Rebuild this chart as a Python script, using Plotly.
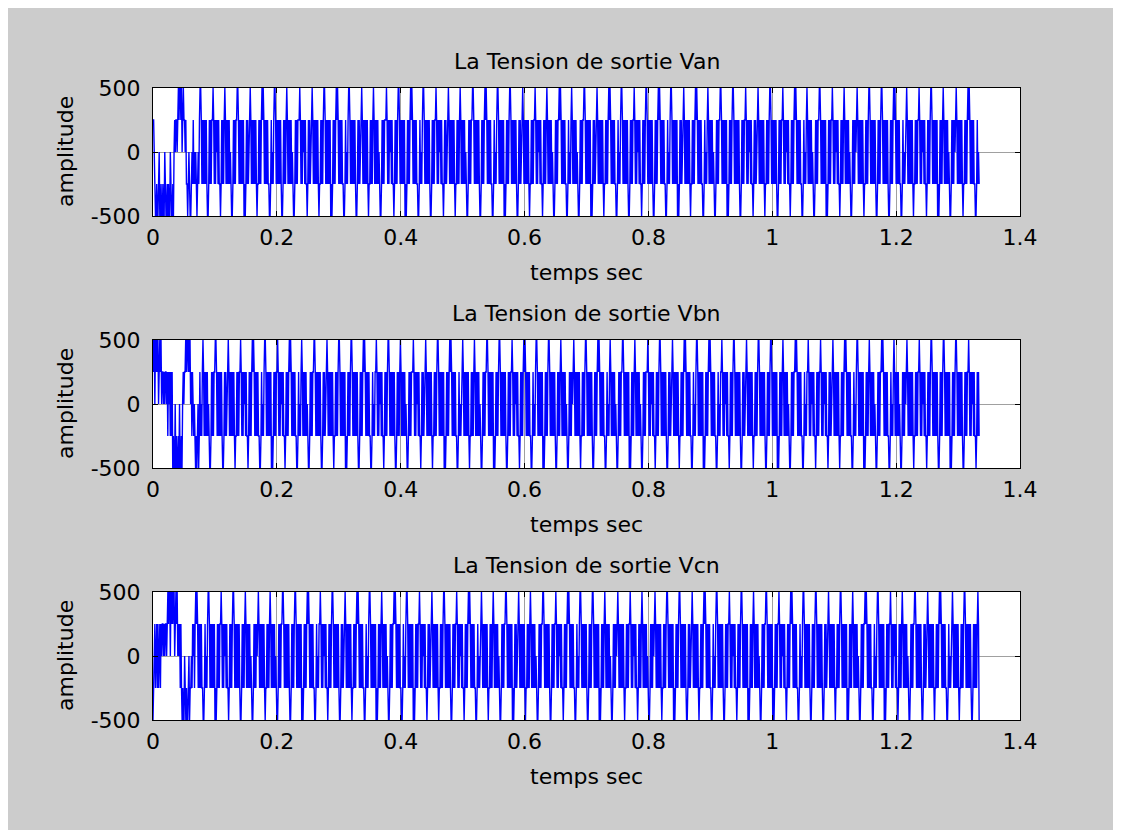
import numpy as np
import plotly.graph_objects as go

# ---------------- data ----------------
T_END = 1.334            # last sample time (s)
X_TICKS = [0, 0.2, 0.4, 0.6, 0.8, 1.0, 1.2, 1.4]
X_TICKTEXT = ["0", "0.2", "0.4", "0.6", "0.8", "1", "1.2", "1.4"]
Y_TICKS = [-500, 0, 500]
Y_TICKTEXT = ["-500", "0", "500"]

# level code: P=+500, p=+250, 0=0, n=-250, N=-500
LEVELS = {"P": 500, "p": 250, "0": 0, "n": -250, "N": -500}

VAN_CODE = (
    "pp0" "nNNnNNn0NNnNNnNN0nNNnNnNN0nNNnN" "0p0pp0pPpPPpP0pPpp0pn" "nNn0nNNn0npn0n0nNn0n"
    "pPPpnpnpnpnpnNNnpnpn" "ppPpnpnp0pnpnnNnpnpn" "pPpnpnpnpn0nNNnpnpnp" "pPPpnpnpnpnpNnNnpnpn" "0pPpnpnpnpnpnNnnpnpn"
    "pPpPpnpnpnpnnNNnpn0n" "pPPpnpnpnpnpnNNnpnpn" "pPpnpnpnpn0nNNnpnpnp" "ppPpnpnp0pnpnnNnpnpn" "0pPpnpnpnpnpnNnnpnpn"
    "pPPpnpnpnpnpNnNnpnpn" "pPpPpnpnpnpnnNNnpn0n" "pPPpnpnpnpnpnNNnpnpn" "0pPpnpnpnpnpnNnnpnpn" "pPpnpnpnpn0nNNnpnpnp"
    "ppPpnpnp0pnpnnNnpnpn" "pPPpnpnpnpnpNnNnpnpn" "pPpPpnpnpnpnnNNnpn0n" "pPPpnpnpnpnpnNNnpnpn" "ppPpnpnp0pnpnnNnpnpn"
    "0pPpnpnpnpnpnNnnpnpn" "pPpnpnpnpn0nNNnpnpnp" "pPPpnpnpnpnpnNNnpnpn" "pPpPpnpnpnpnnNNnpn0n" "pPPpnpnpnpnpNnNnpnpn"
    "pPPpnpnpnpnpnNNnpnpn" "0pPpnpnpnpnpnNnnpnpn" "ppPpnpnp0pnpnnNnpnpn" "pPpnpnpnpn0nNNnpnpnp" "pPpPpnpnpnpnnNNnpn0n"
    "pPpnpnpnpn0nNNnpnpnp" "pPPpnpnpnpnpNnNnpnpn" "0pPpnpnpnpnpnNnnpnpn" "pPpPpnpnpnpnnNNnpn0n" "pPPpnpnpnpnpnNNnpnpn"
    "ppPpnpnp0pnpnnNnpnpn" "pPPpnpnpnpnpnNNnpnpn" "pPpPpnpnpnpnnNNnpn0n" "pPPpnpnpnpnpNnNnpnpn" "0pPpnpnpnpnpnNnnpnpn"
    "pPpPpnpnpnpnnNNnpn0n" "pPpnpnpnpn0nNNnpnpnp" "pPPpnpnpnpnpNnNnpnpn" "pPPpnpnpnpnpnNNnpnpn" "ppPpnpnp0pnpnnNnpnpn"
    "0pPpnpnpnpnpnNnnpnpn" "pPPpnpnpnpnpnNNnpnpn" "ppPpnpnp0pnpnnNnpnpn" "pPpPpnpnpnpnnNNnpn0n" "pPpnpnpnpn0nNNnpnpnp"
    "pPPpnpnpnpnpNnNnpnpn" "ppPpnpnp0pnpnnNnpnpn" "pPpnpnpnpn0nNNnpnpnp" "0pPpnpnpnpnpnNnnpnpn" "pPPpnpnpnpnpnNNnpnpn"
    "pPPpnpnpnpnpnNNnpnpn" "pPpPpnpnpnpnnNNnpn0n" "0pPpnpnpnpnpnNnnpnpn" "ppPpnpnp0pnpnnNnpnpn" "pPPpnpnpnpnpNnNnpnpn"
    "pPpnpnpnpn0nNNnpnpnp" "0pPpnpnpnpnpnNnnpnpn" "pPpPpnpnpnpnnNNnpn0n"
)

VBN_CODE = (
    "PpP0PpPpP0pPpP0p" "p0p0pp0pnp0pnpnp" "NnNN0NnNNnN0NNnN" "0p0ppPpPPpPpP0pnp0n0nNnN" "n0Nnpn0n"
    "pPpnpnpnpn0nNNnpnpnp" "pPPpnpnpnpnpnNNnpnpn" "0pPpnpnpnpnpnNnnpnpn" "ppPpnpnp0pnpnnNnpnpn" "pPpPpnpnpnpnnNNnpn0n"
    "pPPpnpnpnpnpNnNnpnpn" "ppPpnpnp0pnpnnNnpnpn" "pPpPpnpnpnpnnNNnpn0n" "pPpnpnpnpn0nNNnpnpnp" "pPPpnpnpnpnpnNNnpnpn"
    "0pPpnpnpnpnpnNnnpnpn" "pPPpnpnpnpnpNnNnpnpn" "pPPpnpnpnpnpnNNnpnpn" "pPpPpnpnpnpnnNNnpn0n" "ppPpnpnp0pnpnnNnpnpn"
    "pPPpnpnpnpnpnNNnpnpn" "pPpnpnpnpn0nNNnpnpnp" "ppPpnpnp0pnpnnNnpnpn" "0pPpnpnpnpnpnNnnpnpn" "pPPpnpnpnpnpNnNnpnpn"
    "pPpPpnpnpnpnnNNnpn0n" "0pPpnpnpnpnpnNnnpnpn" "pPpnpnpnpn0nNNnpnpnp" "pPPpnpnpnpnpNnNnpnpn" "pPPpnpnpnpnpnNNnpnpn"
    "ppPpnpnp0pnpnnNnpnpn" "pPpPpnpnpnpnnNNnpn0n" "pPPpnpnpnpnpNnNnpnpn" "pPPpnpnpnpnpnNNnpnpn" "pPpnpnpnpn0nNNnpnpnp"
    "0pPpnpnpnpnpnNnnpnpn" "pPPpnpnpnpnpnNNnpnpn" "pPpPpnpnpnpnnNNnpn0n" "pPpnpnpnpn0nNNnpnpnp" "pPPpnpnpnpnpNnNnpnpn"
    "pPpnpnpnpn0nNNnpnpnp" "ppPpnpnp0pnpnnNnpnpn" "pPPpnpnpnpnpnNNnpnpn" "0pPpnpnpnpnpnNnnpnpn" "pPpPpnpnpnpnnNNnpn0n"
    "pPPpnpnpnpnpNnNnpnpn" "pPpPpnpnpnpnnNNnpn0n" "ppPpnpnp0pnpnnNnpnpn" "pPPpnpnpnpnpnNNnpnpn" "0pPpnpnpnpnpnNnnpnpn"
    "pPPpnpnpnpnpnNNnpnpn" "pPPpnpnpnpnpNnNnpnpn" "pPpnpnpnpn0nNNnpnpnp" "pPpPpnpnpnpnnNNnpn0n" "ppPpnpnp0pnpnnNnpnpn"
    "ppPpnpnp0pnpnnNnpnpn" "0pPpnpnpnpnpnNnnpnpn" "pPpPpnpnpnpnnNNnpn0n" "pPPpnpnpnpnpNnNnpnpn" "pPpnpnpnpn0nNNnpnpnp"
    "pPpPpnpnpnpnnNNnpn0n" "pPpnpnpnpn0nNNnpnpnp" "0pPpnpnpnpnpnNnnpnpn" "ppPpnpnp0pnpnnNnpnpn" "pPPpnpnpnpnpnNNnpnpn"
    "pPPpnpnpnpnpNnNnpnpn" "pPPpnpnpnpnpnNNnpnpn" "ppPpnpnp0pnpnnNnpnpn"
)

VCN_CODE = (
    "Nn0pn0pnpn0pnp0p" "p0p0pp0p" "PpPP0PpPpPP0pPpP" "0p0pnp" "nNnNN0nNnNNn0Nnn0n" "p0pn"
    "pPpPpnpnpnpnnNNnpn0n" "pPPpnpnpnpnpNnNnpnpn" "ppPpnpnp0pnpnnNnpnpn" "pPPpnpnpnpnpnNNnpnpn" "pPpnpnpnpn0nNNnpnpnp"
    "0pPpnpnpnpnpnNnnpnpn" "pPpnpnpnpn0nNNnpnpnp" "pPPpnpnpnpnpnNNnpnpn" "pPPpnpnpnpnpNnNnpnpn" "pPpPpnpnpnpnnNNnpn0n"
    "ppPpnpnp0pnpnnNnpnpn" "pPPpnpnpnpnpnNNnpnpn" "0pPpnpnpnpnpnNnnpnpn" "pPpPpnpnpnpnnNNnpn0n" "pPPpnpnpnpnpNnNnpnpn"
    "pPpnpnpnpn0nNNnpnpnp" "pPpPpnpnpnpnnNNnpn0n" "pPPpnpnpnpnpNnNnpnpn" "ppPpnpnp0pnpnnNnpnpn" "0pPpnpnpnpnpnNnnpnpn"
    "pPPpnpnpnpnpnNNnpnpn" "ppPpnpnp0pnpnnNnpnpn" "pPpPpnpnpnpnnNNnpn0n" "0pPpnpnpnpnpnNnnpnpn" "pPpnpnpnpn0nNNnpnpnp"
    "pPPpnpnpnpnpNnNnpnpn" "0pPpnpnpnpnpnNnnpnpn" "pPpnpnpnpn0nNNnpnpnp" "pPPpnpnpnpnpnNNnpnpn" "ppPpnpnp0pnpnnNnpnpn"
    "pPpPpnpnpnpnnNNnpn0n" "pPPpnpnpnpnpnNNnpnpn" "pPPpnpnpnpnpNnNnpnpn" "pPpnpnpnpn0nNNnpnpnp" "0pPpnpnpnpnpnNnnpnpn"
    "ppPpnpnp0pnpnnNnpnpn" "pPpnpnpnpn0nNNnpnpnp" "0pPpnpnpnpnpnNnnpnpn" "pPPpnpnpnpnpNnNnpnpn" "pPPpnpnpnpnpnNNnpnpn"
    "0pPpnpnpnpnpnNnnpnpn" "pPpPpnpnpnpnnNNnpn0n" "pPPpnpnpnpnpnNNnpnpn" "ppPpnpnp0pnpnnNnpnpn" "pPPpnpnpnpnpNnNnpnpn"
    "pPpnpnpnpn0nNNnpnpnp" "pPPpnpnpnpnpNnNnpnpn" "ppPpnpnp0pnpnnNnpnpn" "pPpPpnpnpnpnnNNnpn0n" "pPPpnpnpnpnpnNNnpnpn"
    "pPPpnpnpnpnpnNNnpnpn" "0pPpnpnpnpnpnNnnpnpn" "pPPpnpnpnpnpNnNnpnpn" "pPpnpnpnpn0nNNnpnpnp" "pPpPpnpnpnpnnNNnpn0n"
    "pPPpnpnpnpnpNnNnpnpn" "ppPpnpnp0pnpnnNnpnpn" "pPpnpnpnpn0nNNnpnpnp" "pPPpnpnpnpnpnNNnpnpn" "0pPpnpnpnpnpnNnnpnpn"
    "pPpPpnpnpnpnnNNnpn0n" "0pPpnpnpnpnpnNnnpnpn" "pPPpnpnpnpnpnNNnpnpn" "pnpPpN"
)

TITLES = ["La Tension de sortie Van", "La Tension de sortie Vbn", "La Tension de sortie Vcn"]
X_LABEL = "temps sec"
Y_LABEL = "amplitude"

# ---------------- layout geometry (page pixels) ----------------
PAGE_MARGIN = 8                       # browser body margin
FIG_W, FIG_H = 1121 - 2 * PAGE_MARGIN, 838 - 2 * PAGE_MARGIN
PLOT_L, PLOT_R = 153, 1020            # page x of the axes box
ROWS = [(88, 216), (340, 468), (592, 720)]   # page y (top, bottom) of each axes box
AREA_T, AREA_B = ROWS[0][0], ROWS[-1][1]
AREA_W = PLOT_R - PLOT_L
AREA_H = AREA_B - AREA_T
FONT = "DejaVu Sans, Verdana, sans-serif"
FS_TICK = 22
FS_LABEL = 22
FS_TITLE = 22
BLUE = "#0000FF"
GRID = "#A0A0A0"
FIG_BG = "#CCCCCC"


def paper_x(page_px):
    return (page_px - PLOT_L) / AREA_W


def paper_y(page_py):
    return (AREA_B - page_py) / AREA_H


fig = go.Figure()

codes = [VAN_CODE, VBN_CODE, VCN_CODE]
for i, code in enumerate(codes):
    y = [LEVELS[c] for c in code]
    t = np.linspace(0, T_END, len(y))
    sfx = "" if i == 0 else str(i + 1)
    fig.add_trace(go.Scatter(
        x=t, y=y, mode="lines",
        line=dict(color=BLUE, width=1.4, simplify=False),
        xaxis="x" + sfx, yaxis="y" + sfx,
        showlegend=False, hoverinfo="skip",
    ))

axis_common = dict(
    showline=True, linecolor="black", linewidth=1, mirror="ticks",
    ticks="inside", ticklen=5, tickcolor="black", tickwidth=1,
    showgrid=True, gridcolor=GRID, gridwidth=1, zeroline=False,
    tickfont=dict(family=FONT, size=FS_TICK, color="black"),
    fixedrange=True, automargin=False,
)

annotations = []
for i, (top, bot) in enumerate(ROWS):
    sfx = "" if i == 0 else str(i + 1)
    fig.layout["xaxis" + sfx] = dict(
        axis_common, domain=[0, 1], anchor="y" + sfx,
        range=[0, 1.4], tickvals=X_TICKS, ticktext=X_TICKTEXT,
        ticklabelstandoff=2,
    )
    fig.layout["yaxis" + sfx] = dict(
        axis_common, domain=[paper_y(bot), paper_y(top)], anchor="x" + sfx,
        range=[-500, 500], tickvals=Y_TICKS, ticktext=Y_TICKTEXT,
        ticklabelstandoff=7,
    )
    cx = (PLOT_L + PLOT_R) / 2
    annotations.append(dict(
        text=TITLES[i], x=paper_x(cx), y=paper_y(top - 27), xref="paper", yref="paper",
        xanchor="center", yanchor="middle", showarrow=False,
        font=dict(family=FONT, size=FS_TITLE, color="black")))
    annotations.append(dict(
        text=X_LABEL, x=paper_x(cx), y=paper_y(bot + 56), xref="paper", yref="paper",
        xanchor="center", yanchor="middle", showarrow=False,
        font=dict(family=FONT, size=FS_LABEL, color="black")))
    annotations.append(dict(
        text=Y_LABEL, x=paper_x(65), y=paper_y((top + bot) / 2), xref="paper", yref="paper",
        xanchor="center", yanchor="middle", showarrow=False, textangle=-90,
        font=dict(family=FONT, size=FS_LABEL, color="black")))

fig.update_layout(
    width=FIG_W, height=FIG_H,
    margin=dict(
        l=PLOT_L - PAGE_MARGIN,
        r=(PAGE_MARGIN + FIG_W) - PLOT_R,
        t=AREA_T - PAGE_MARGIN,
        b=(PAGE_MARGIN + FIG_H) - AREA_B,
        autoexpand=False,
    ),
    paper_bgcolor=FIG_BG, plot_bgcolor="white",
    annotations=annotations,
)

fig.write_html("out.html", config={"displayModeBar": False})
